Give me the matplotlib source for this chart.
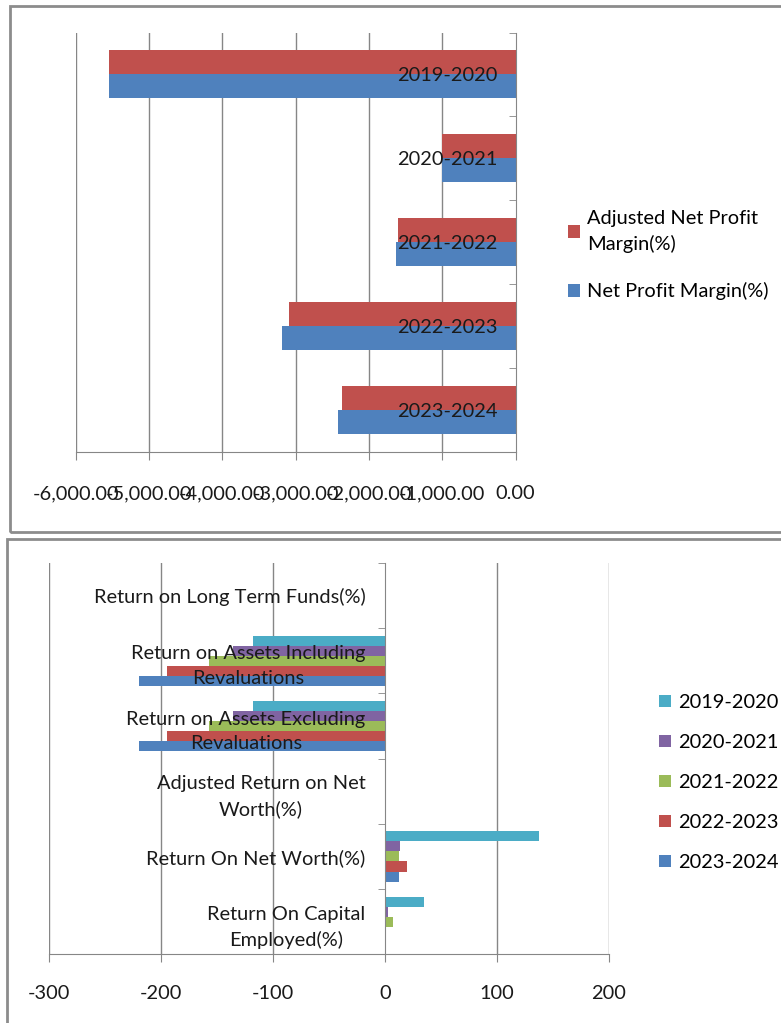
import numpy as np
import matplotlib
matplotlib.use("Agg")
import matplotlib.pyplot as plt
from matplotlib.patches import Rectangle
from matplotlib.ticker import FuncFormatter, FixedLocator

plt.rcParams["font.family"] = ["Lato", "DejaVu Sans"]
plt.rcParams["font.size"] = 14.4

# top chart
anos = ["2019-2020", "2020-2021", "2021-2022", "2022-2023", "2023-2024"]
margem_ajustada = [-5546, -1000, -1597, -3093, -2366]
margem_liquida = [-5546, -1000, -1625, -3181, -2420]

# bottom chart
indicadores = [
    "Return on Long Term Funds(%)",
    "Return on Assets Including\nRevaluations",
    "Return on Assets Excluding\nRevaluations",
    "Adjusted Return on Net\nWorth(%)",
    "Return On Net Worth(%)",
    "Return On Capital\nEmployed(%)",
]
retorno_2019_2020 = [0, -118.3, -118.3, 0, 137.5, 34.8]
retorno_2020_2021 = [0, -136.1, -136.1, 0, 13.2, 2.7]
retorno_2021_2022 = [0, -157.0, -157.0, 0, 13.0, 7.7]
retorno_2022_2023 = [0, -194.7, -194.7, 0, 20.2, 1.0]
retorno_2023_2024 = [0, -220.0, -220.0, 0, 12.2, 1.2]

AZUL = "#4F81BD"
VERMELHO = "#C0504D"
VERDE = "#9BBB59"
ROXO = "#8064A2"
CIANO = "#4BACC6"
CINZA = "#868686"
TEXTO = "#1a1a1a"

W, H = 781, 1023


def eixo_px(fig, x0, x1, y0, y1):
    return fig.add_axes([x0 / W, 1 - y1 / H, (x1 - x0) / W, (y1 - y0) / H])


def barras_agrupadas(ax, series, cores, rotulos):
    n_cat = len(series[0])
    n_ser = len(series)
    h = 1 / (n_ser + 1.5)
    y = np.arange(n_cat)
    for i, (vals, cor, rot) in enumerate(zip(series, cores, rotulos)):
        ax.barh(y - n_ser * h / 2 + (i + 0.5) * h, vals, height=h,
                color=cor, label=rot, linewidth=0, zorder=2)
    ax.set_ylim(n_cat - 0.5, -0.5)


def estilo_eixo(ax, categorias, pad_y, pad_x):
    ax.set_axisbelow(False)
    for s in ["top", "right"]:
        ax.spines[s].set_visible(False)
    ax.spines["left"].set_position(("data", 0))
    ax.spines["left"].set_color(CINZA)
    ax.spines["bottom"].set_color(CINZA)
    ax.set_yticks(np.arange(len(categorias)))
    ax.set_yticklabels(categorias)
    for t in ax.get_yticklabels():
        t.set_multialignment("center")
        t.set_linespacing(1.55)
    ax.yaxis.set_minor_locator(FixedLocator(np.arange(-0.5, len(categorias), 1)))
    ax.tick_params(axis="y", which="major", length=0, pad=pad_y, labelcolor=TEXTO)
    ax.tick_params(axis="y", which="minor", length=5, color=CINZA, direction="out")
    ax.tick_params(axis="x", length=6, color=CINZA, pad=pad_x, labelcolor=TEXTO)
    for x in ax.get_xticks():
        if x != 0:
            ax.axvline(x, color=CINZA, lw=1, zorder=0.5)


fig = plt.figure(figsize=(W / 100, H / 100), dpi=100)

# molduras
fig.patches.append(Rectangle((10 / W, 1 - 532 / H), 800 / W, 526 / H,
                             transform=fig.transFigure, fill=False,
                             edgecolor="#8c8c8c", lw=2))
fig.patches.append(Rectangle((7 / W, 1 - 1040 / H), 800 / W, 501 / H,
                             transform=fig.transFigure, fill=False,
                             edgecolor="#8c8c8c", lw=2))

# grafico de cima
ax1 = eixo_px(fig, 75.7, 515.5, 32.5, 452)
barras_agrupadas(ax1, [margem_ajustada, margem_liquida], [VERMELHO, AZUL],
                 ["Adjusted Net Profit\nMargin(%)", "Net Profit Margin(%)"])
ax1.set_xlim(-6000, 0)
ax1.set_xticks(np.arange(-6000, 1, 1000))
ax1.xaxis.set_major_formatter(FuncFormatter(lambda v, p: f"{v:,.2f}"))
estilo_eixo(ax1, anos, 13, 18)
leg1 = ax1.legend(loc="upper left", bbox_to_anchor=(568 / W, 1 - 210 / H),
                  bbox_transform=fig.transFigure, frameon=False,
                  handlelength=0.6, handleheight=0.6, handletextpad=0.35,
                  labelspacing=1.45, borderpad=0, borderaxespad=0)
for t in leg1.get_texts():
    t.set_linespacing(1.55)

# grafico de baixo
ax2 = eixo_px(fig, 49.3, 608.6, 563, 954.3)
barras_agrupadas(ax2,
                 [retorno_2019_2020, retorno_2020_2021, retorno_2021_2022,
                  retorno_2022_2023, retorno_2023_2024],
                 [CIANO, ROXO, VERDE, VERMELHO, AZUL], anos)
ax2.set_xlim(-300, 200)
ax2.set_xticks(np.arange(-300, 201, 100))
ax2.xaxis.set_major_formatter(FuncFormatter(lambda v, p: f"{int(v)}"))
estilo_eixo(ax2, indicadores, 14, 16)
ax2.legend(loc="upper left", bbox_to_anchor=(659 / W, 1 - 694 / H),
           bbox_transform=fig.transFigure, frameon=False,
           handlelength=0.6, handleheight=0.6, handletextpad=0.35,
           labelspacing=1.15, borderpad=0, borderaxespad=0)

fig.savefig("out.png", dpi=100)
